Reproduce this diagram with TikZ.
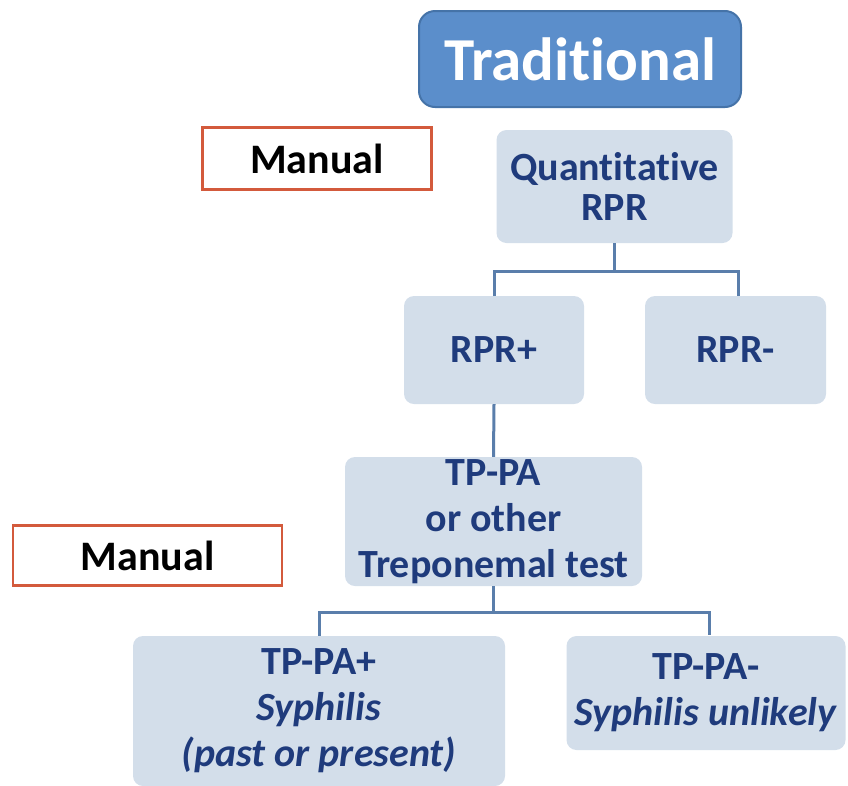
\documentclass[tikz,border=0pt]{standalone}
\usepackage{fontspec}
\setmainfont[Ligatures=NoCommon]{Carlito}
\begin{document}
\begin{tikzpicture}[x=1pt,y=-1pt,
  lightbox/.style={fill=boxfill, rounded corners=10pt, inner sep=0pt, align=center,
     text=navy, font=\bfseries\fontsize{40}{46}\selectfont},
  manualbox/.style={draw=manred, line width=2.5pt, fill=white, inner sep=0pt,
     font=\bfseries\fontsize{42}{46}\selectfont, text=black},
  conn/.style={draw=linecol, line width=3pt}
]
\definecolor{boxfill}{HTML}{D3DEEA}
\definecolor{navy}{HTML}{1F3B7C}
\definecolor{manred}{HTML}{D35A3C}
\definecolor{linecol}{HTML}{5A7EAB}
\definecolor{tradfill}{HTML}{5B8ECB}
\definecolor{tradedge}{HTML}{4573A8}
\useasboundingbox (0,0) rectangle (848,785);

\node[fill=tradfill, draw=tradedge, line width=2pt, rounded corners=16pt,
  minimum width=322pt, minimum height=96pt, inner sep=0pt, text=white,
  font=\bfseries\fontsize{61}{61}\selectfont] (trad) at (580,59) {Traditional};

\node[manualbox, minimum width=229pt, minimum height=62pt] (man1) at (317,158.5) {Manual};
\node[manualbox, minimum width=269pt, minimum height=60pt] (man2) at (147.5,555.5) {Manual};

\node[lightbox, minimum width=236pt, minimum height=113pt,
  font=\bfseries\fontsize{40}{40}\selectfont] (quant) at (614.5,186.5) {Quantitative\\RPR};
\node[lightbox, minimum width=180pt, minimum height=108pt] (rprp) at (494,350) {RPR+};
\node[lightbox, minimum width=181pt, minimum height=108pt] (rprm) at (735.5,350) {RPR-};
\node[lightbox, minimum width=297pt, minimum height=129pt] (tppa) at (493.5,521.5)
  {TP-PA\\or other\\Treponemal test};
\node[lightbox, minimum width=372pt, minimum height=150pt] (tpp) at (319,711)
  {TP-PA+\\\textit{Syphilis}\\\textit{(past or present)}};
\node[lightbox, minimum width=279pt, minimum height=114pt] (tpm) at (706,693)
  {TP-PA-\\\textit{Syphilis unlikely}};

\coordinate (b1l) at (494,296);
\coordinate (b1r) at (738,296);
\coordinate (b2r) at (709,635);

\draw[conn] (quant.south) -- ++(0,28) coordinate (j1);
\draw[conn] (b1l) |- (j1) -| (b1r);
\draw[conn] (rprp.south) -- (tppa.north);
\draw[conn] (tppa.south) -- ++(0,26) coordinate (j2);
\draw[conn] (tpp.north) |- (j2) -| (b2r);
\end{tikzpicture}
\end{document}
